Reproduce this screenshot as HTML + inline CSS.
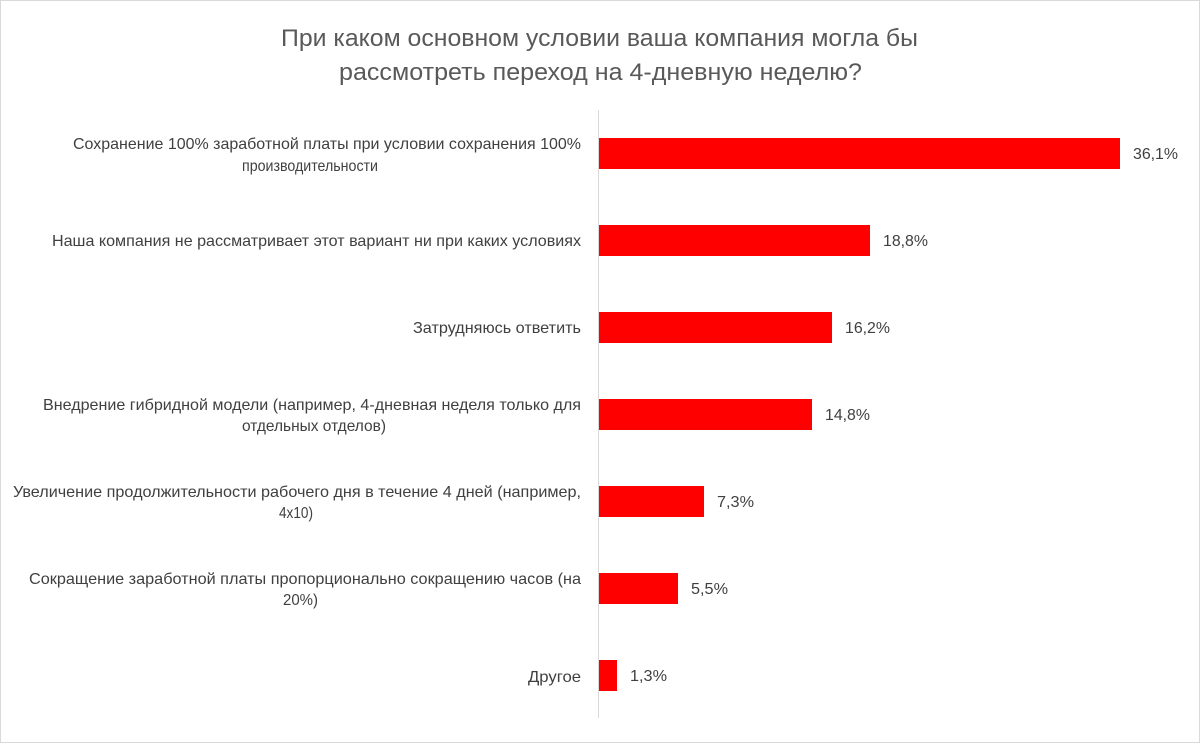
<!DOCTYPE html>
<html><head><meta charset="utf-8"><style>
html,body{margin:0;padding:0;background:#fff}
svg{display:block}
text{font-family:"Liberation Sans",sans-serif}
</style></head><body>
<svg width="1200" height="743" viewBox="0 0 1200 743" xmlns="http://www.w3.org/2000/svg">
<rect x="0.5" y="0.5" width="1199" height="742" fill="#fff" stroke="#d9d9d9"/>
<g fill="#595959" font-size="24">
<text x="281" y="46" textLength="637" lengthAdjust="spacingAndGlyphs">При каком основном условии ваша компания могла бы</text>
<text x="339" y="80" textLength="523" lengthAdjust="spacingAndGlyphs">рассмотреть переход на 4-дневную неделю?</text>
</g>
<line x1="598.5" y1="110" x2="598.5" y2="718" stroke="#d9d9d9" stroke-width="1"/>
<g fill="#ff0000">
<rect x="599" y="138" width="521" height="31"/>
<rect x="599" y="225" width="271" height="31"/>
<rect x="599" y="312" width="233" height="31"/>
<rect x="599" y="399" width="213" height="31"/>
<rect x="599" y="486" width="105" height="31"/>
<rect x="599" y="573" width="79" height="31"/>
<rect x="599" y="660" width="18" height="31"/>
</g>
<g fill="#404040" font-size="16">
<text x="73" y="149" textLength="508" lengthAdjust="spacingAndGlyphs">Сохранение 100% заработной платы при условии сохранения 100%</text>
<text x="242" y="171" textLength="136" lengthAdjust="spacingAndGlyphs">производительности</text>
<text x="52" y="246" textLength="529" lengthAdjust="spacingAndGlyphs">Наша компания не рассматривает этот вариант ни при каких условиях</text>
<text x="413" y="333" textLength="168" lengthAdjust="spacingAndGlyphs">Затрудняюсь ответить</text>
<text x="43" y="410" textLength="538" lengthAdjust="spacingAndGlyphs">Внедрение гибридной модели (например, 4-дневная неделя только для</text>
<text x="242" y="431" textLength="144" lengthAdjust="spacingAndGlyphs">отдельных отделов)</text>
<text x="13" y="497" textLength="568" lengthAdjust="spacingAndGlyphs">Увеличение продолжительности рабочего дня в течение 4 дней (например,</text>
<text x="279" y="518" textLength="34" lengthAdjust="spacingAndGlyphs">4x10)</text>
<text x="29" y="584" textLength="552" lengthAdjust="spacingAndGlyphs">Сокращение заработной платы пропорционально сокращению часов (на</text>
<text x="283" y="605" textLength="35" lengthAdjust="spacingAndGlyphs">20%)</text>
<text x="528" y="682" textLength="53" lengthAdjust="spacingAndGlyphs">Другое</text>
<text x="1133" y="159" textLength="45" lengthAdjust="spacingAndGlyphs">36,1%</text>
<text x="883" y="246" textLength="45" lengthAdjust="spacingAndGlyphs">18,8%</text>
<text x="845" y="333" textLength="45" lengthAdjust="spacingAndGlyphs">16,2%</text>
<text x="825" y="420" textLength="45" lengthAdjust="spacingAndGlyphs">14,8%</text>
<text x="717" y="507" textLength="37" lengthAdjust="spacingAndGlyphs">7,3%</text>
<text x="691" y="594" textLength="37" lengthAdjust="spacingAndGlyphs">5,5%</text>
<text x="630" y="681" textLength="37" lengthAdjust="spacingAndGlyphs">1,3%</text>
</g>
</svg>
</body></html>
